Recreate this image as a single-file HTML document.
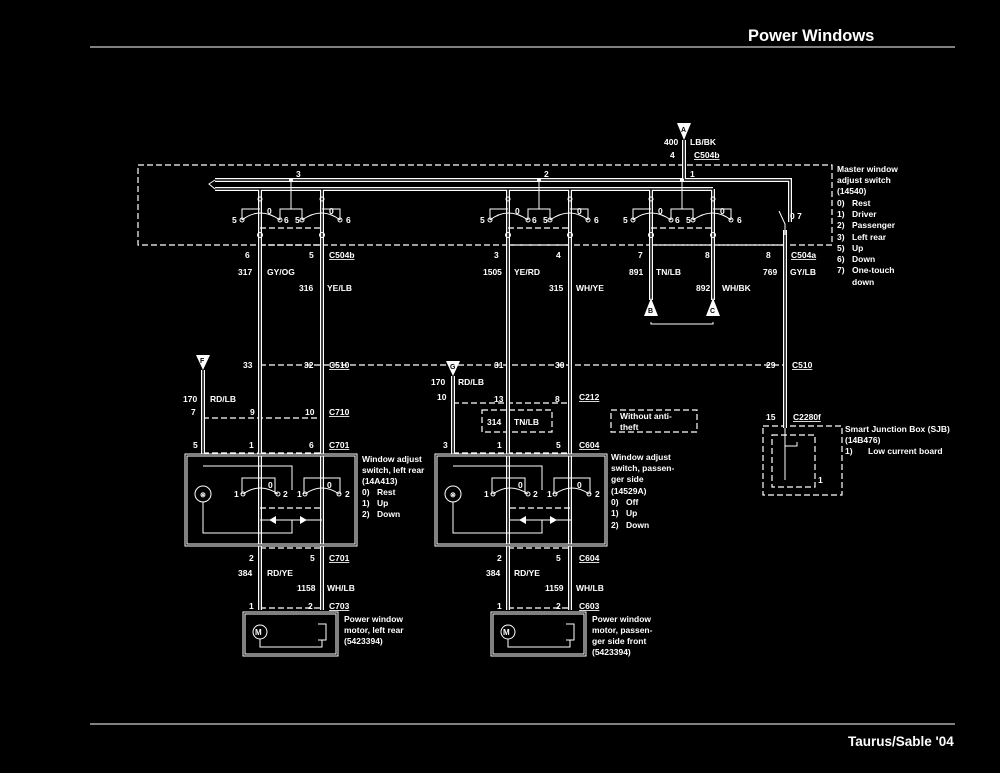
<!DOCTYPE html>
<html><head><meta charset="utf-8"><style>
html,body{margin:0;padding:0;background:#000;}
svg{display:block}
text{fill:#fff;font-family:"Liberation Sans",sans-serif;font-size:8.5px;font-weight:bold}
.t{font-size:16.5px}
.th{stroke:#fff;stroke-width:1;fill:none}
.d{stroke:#fff;stroke-width:1.2;fill:none;stroke-dasharray:6 3}
.u{text-decoration:underline}
</style></head><body>
<svg width="1000" height="773" viewBox="0 0 1000 773">
<defs>
<path id="wires" d="M684 140V180 M215 180H790V222 M215 189H713 M260 189V610 M322 189V610 M508 189V610 M570 189V610 M651 189V300 M713 189V300 M785 230V428 M203 370V455 M453 376V455"/>
<g id="sw">
<circle cx="0" cy="199" r="2" class="th"/><circle cx="62" cy="199" r="2" class="th"/>
<circle cx="0" cy="235" r="2.5" class="th"/><circle cx="62" cy="235" r="2.5" class="th"/>
<path class="th" d="M0 209H-18V220 M-18 220Q0 206 20 220 M20 220V209H42V220 M31 209V180 M42 220Q62 206 80 220 M62 209H80V220"/>
<circle cx="-18" cy="220" r="2" class="th"/><circle cx="20" cy="220" r="2" class="th"/><circle cx="42" cy="220" r="2" class="th"/><circle cx="80" cy="220" r="2" class="th"/><circle cx="31" cy="180" r="2" fill="#fff"/>
<path class="d" d="M0 228H62"/>
<text x="-28" y="223">5</text><text x="7" y="214">0</text><text x="24" y="223">6</text><text x="35" y="223">5</text><text x="69" y="214">0</text><text x="86" y="223">6</text>
</g>
<g id="ws">
<path class="th" d="M0 466H89V478 M0 502V533H89V520 M57 520H119 M57 478H39V494 M57 478H72V494 M75 494Q57 482 40 494 M89 478V490 M119 478H137V494 M119 478H101V494 M102 494Q119 482 136 494"/>
<circle cx="0" cy="494" r="8" class="th"/><text x="-3" y="497" style="font-size:7px">⊗</text>
<circle cx="40" cy="494" r="2" class="th"/><circle cx="75" cy="494" r="2" class="th"/><circle cx="102" cy="494" r="2" class="th"/><circle cx="136" cy="494" r="2" class="th"/>
<path class="d" d="M57 508H119"/>
<path d="M73 516v8l-7-4z M97 516v8l7-4z" fill="#fff"/>
<text x="31" y="497">1</text><text x="65" y="488">0</text><text x="80" y="497">2</text><text x="94" y="497">1</text><text x="124" y="488">0</text><text x="142" y="497">2</text>
<rect x="-17" y="455" width="170" height="90" fill="none" stroke="#fff" stroke-width="3"/>
<rect x="-17" y="455" width="170" height="90" fill="none" stroke="#000" stroke-width="1"/>
</g>
<g id="mot">
<rect x="0" y="613" width="93" height="42" fill="none" stroke="#fff" stroke-width="3"/>
<rect x="0" y="613" width="93" height="42" fill="none" stroke="#000" stroke-width="1"/>
<circle cx="16" cy="632" r="7" class="th"/><text x="11" y="635" style="font-size:8px">M</text>
<path class="th" d="M16 639V647H78V640 M74 624H82V640H74"/>
</g>
</defs>
<text x="748" y="41" class="t">Power Windows</text>
<line x1="90" y1="47" x2="955" y2="47" stroke="#fff" stroke-width="1"/>
<line x1="90" y1="724" x2="955" y2="724" stroke="#fff" stroke-width="1"/>
<text x="848" y="746" style="font-size:13.5px">Taurus/Sable '04</text>

<rect x="138" y="165" width="694" height="80" class="d"/>
<path class="d" d="M260 365H785 M203 418H322 M453 403H570 M260 453H322 M203 453H260 M453 453H570 M260 548H322 M508 548H570 M260 608H322 M508 608H570 M260 245H322 M508 245H570 M651 245H785"/>
<rect x="482" y="410" width="70" height="22" class="d"/>
<rect x="611" y="410" width="86" height="22" class="d"/>
<rect x="763" y="426" width="79" height="69" class="d"/>
<rect x="772" y="435" width="43" height="52" class="d"/>

<use href="#wires" stroke="#fff" stroke-width="4" fill="none"/>
<use href="#wires" stroke="#000" stroke-width="1.5" fill="none"/>
<path class="th" d="M215 180l-6 4 6 5 M785 428V480 M785 446H797V442 M785 476v4"/>

<use href="#sw" x="260"/><use href="#sw" x="508"/><use href="#sw" x="651"/>
<path class="th" d="M779 211L785 224V235 M651 322V324H713V322"/>
<text x="790" y="219">0 7</text>
<use href="#ws" x="203"/><use href="#ws" x="453"/>
<use href="#mot" x="244"/><use href="#mot" x="492"/>

<path d="M677 123H691L684 140Z M644 316H658L651 298Z M706 316H720L713 298Z M196 355H210L203 370Z M446 361H460L453 376Z" fill="#fff"/>
<text x="681" y="132" style="fill:#000;font-size:7px">A</text>
<text x="648" y="313" style="fill:#000;font-size:7px">B</text><text x="710" y="313" style="fill:#000;font-size:7px">C</text>
<text x="200" y="363" style="fill:#000;font-size:7px">F</text><text x="450" y="369" style="fill:#000;font-size:7px">G</text>

<text x="664" y="145">400</text><text x="690" y="145">LB/BK</text><text x="670" y="158">4</text><text x="694" y="158" class="u">C504b</text>
<text x="296" y="177">3</text><text x="544" y="177">2</text><text x="690" y="177">1</text>
<text x="245" y="258">6</text><text x="309" y="258">5</text><text x="329" y="258" class="u">C504b</text>
<text x="238" y="275">317</text><text x="267" y="275">GY/OG</text><text x="299" y="291">316</text><text x="327" y="291">YE/LB</text>
<text x="494" y="258">3</text><text x="556" y="258">4</text><text x="483" y="275">1505</text><text x="514" y="275">YE/RD</text><text x="549" y="291">315</text><text x="576" y="291">WH/YE</text>
<text x="638" y="258">7</text><text x="705" y="258">8</text><text x="766" y="258">8</text><text x="791" y="258" class="u">C504a</text>
<text x="629" y="275">891</text><text x="656" y="275">TN/LB</text><text x="696" y="291">892</text><text x="722" y="291">WH/BK</text><text x="763" y="275">769</text><text x="790" y="275">GY/LB</text>
<text x="837" y="172">Master window</text><text x="837" y="183">adjust switch</text><text x="837" y="194">(14540)</text>
<text x="837" y="206">0)</text><text x="852" y="206">Rest</text><text x="837" y="217">1)</text><text x="852" y="217">Driver</text>
<text x="837" y="228">2)</text><text x="852" y="228">Passenger</text><text x="837" y="240">3)</text><text x="852" y="240">Left rear</text>
<text x="837" y="251">5)</text><text x="852" y="251">Up</text><text x="837" y="262">6)</text><text x="852" y="262">Down</text>
<text x="837" y="273">7)</text><text x="852" y="273">One-touch</text><text x="852" y="285">down</text>

<text x="243" y="368">33</text><text x="304" y="368">32</text><text x="329" y="368" class="u">C510</text>
<text x="494" y="368">31</text><text x="555" y="368">30</text><text x="766" y="368">29</text><text x="792" y="368" class="u">C510</text>
<text x="183" y="402">170</text><text x="210" y="402">RD/LB</text>
<text x="191" y="415">7</text><text x="250" y="415">9</text><text x="305" y="415">10</text><text x="329" y="415" class="u">C710</text>
<text x="193" y="448">5</text><text x="249" y="448">1</text><text x="309" y="448">6</text><text x="329" y="448" class="u">C701</text>
<text x="431" y="385">170</text><text x="458" y="385">RD/LB</text>
<text x="437" y="400">10</text><text x="494" y="402">13</text><text x="555" y="402">8</text><text x="579" y="400" class="u">C212</text>
<text x="487" y="425">314</text><text x="514" y="425">TN/LB</text>
<text x="620" y="419">Without anti-</text><text x="620" y="430">theft</text>
<text x="443" y="448">3</text><text x="497" y="448">1</text><text x="556" y="448">5</text><text x="579" y="448" class="u">C604</text>
<text x="362" y="462">Window adjust</text><text x="362" y="473">switch, left rear</text><text x="362" y="484">(14A413)</text>
<text x="362" y="495">0)</text><text x="377" y="495">Rest</text><text x="362" y="506">1)</text><text x="377" y="506">Up</text><text x="362" y="517">2)</text><text x="377" y="517">Down</text>
<text x="611" y="460">Window adjust</text><text x="611" y="471">switch, passen-</text><text x="611" y="482">ger side</text><text x="611" y="494">(14529A)</text>
<text x="611" y="505">0)</text><text x="626" y="505">Off</text><text x="611" y="516">1)</text><text x="626" y="516">Up</text><text x="611" y="528">2)</text><text x="626" y="528">Down</text>
<text x="249" y="561">2</text><text x="310" y="561">5</text><text x="329" y="561" class="u">C701</text>
<text x="238" y="576">384</text><text x="267" y="576">RD/YE</text><text x="297" y="591">1158</text><text x="327" y="591">WH/LB</text>
<text x="249" y="609">1</text><text x="308" y="609">2</text><text x="329" y="609" class="u">C703</text>
<text x="497" y="561">2</text><text x="556" y="561">5</text><text x="579" y="561" class="u">C604</text>
<text x="486" y="576">384</text><text x="514" y="576">RD/YE</text><text x="545" y="591">1159</text><text x="576" y="591">WH/LB</text>
<text x="497" y="609">1</text><text x="556" y="609">2</text><text x="579" y="609" class="u">C603</text>
<text x="344" y="622">Power window</text><text x="344" y="633">motor, left rear</text><text x="344" y="644">(5423394)</text>
<text x="592" y="622">Power window</text><text x="592" y="633">motor, passen-</text><text x="592" y="644">ger side front</text><text x="592" y="655">(5423394)</text>
<text x="766" y="420">15</text><text x="793" y="420" class="u">C2280f</text>
<text x="845" y="432">Smart Junction Box (SJB)</text><text x="845" y="443">(14B476)</text>
<text x="845" y="454">1)</text><text x="868" y="454">Low current board</text><text x="818" y="483">1</text>
</svg>
</body></html>
